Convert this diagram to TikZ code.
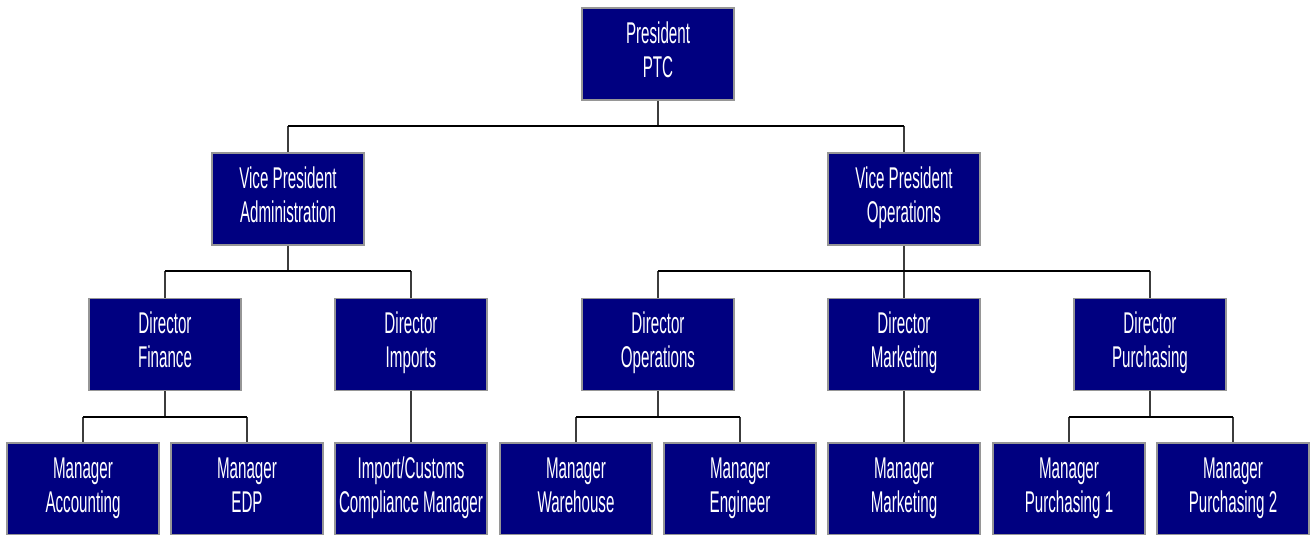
\documentclass[tikz,border=0pt]{standalone}
\usepackage{fontspec}
\setmainfont[FakeStretch=0.505]{Liberation Sans}
\definecolor{navy}{RGB}{0,0,128}
\definecolor{bord}{RGB}{150,150,150}
\definecolor{vl}{RGB}{60,60,60}
\newcommand\st{\rule[-10.5pt]{0pt}{33.9pt}}
\begin{document}
\begin{tikzpicture}[x=1pt,y=-1pt,
  box/.style={draw=bord,line width=1.8pt,fill=navy,text=white,minimum width=152pt,minimum height=92pt,inner sep=0pt,align=center,font=\fontsize{30}{34}\selectfont},
  vline/.style={draw=vl,line width=1.3pt},
  hbar/.style={draw=black,line width=2.2pt}]
\useasboundingbox (0,0) rectangle (1312,535);
% level 0
\node[box] (pres) at (658,54) {\st President\\\st PTC};
% level 1
\node[box] (vpa) at (288,199) {\st Vice President\\\st Administration};
\node[box] (vpo) at (904,199) {\st Vice President\\\st Operations};
% level 2
\node[box] (dfin) at (165,344.5) {\st Director\\\st Finance};
\node[box] (dimp) at (411,344.5) {\st Director\\\st Imports};
\node[box] (dops) at (658,344.5) {\st Director\\\st Operations};
\node[box] (dmkt) at (904,344.5) {\st Director\\\st Marketing};
\node[box] (dpur) at (1150,344.5) {\st Director\\\st Purchasing};
% level 3
\node[box] (macc) at (83,489) {\st Manager\\\st Accounting};
\node[box] (medp) at (247,489) {\st Manager\\\st EDP};
\node[box] (mimp) at (411,489) {\st Import/Customs\\\st Compliance Manager};
\node[box] (mwar) at (576,489) {\st Manager\\\st Warehouse};
\node[box] (meng) at (740,489) {\st Manager\\\st Engineer};
\node[box] (mmkt) at (904,489) {\st Manager\\\st Marketing};
\node[box] (mp1) at (1069,489) {\st Manager\\\st Purchasing 1};
\node[box] (mp2) at (1233,489) {\st Manager\\\st Purchasing 2};
% bar levels
\coordinate (b0) at (0,126);
\coordinate (b1) at (0,271);
\coordinate (b2) at (0,417);
% president -> VPs
\draw[vline] (pres.south) -- (pres.south |- b0);
\draw[vline] (vpa.north |- b0) -- (vpa.north);
\draw[vline] (vpo.north |- b0) -- (vpo.north);
\draw[hbar] (vpa.north |- b0) -- (vpo.north |- b0);
% VP admin -> directors
\draw[vline] (vpa.south) -- (vpa.south |- b1);
\draw[vline] (dfin.north |- b1) -- (dfin.north);
\draw[vline] (dimp.north |- b1) -- (dimp.north);
\draw[hbar] (dfin.north |- b1) -- (dimp.north |- b1);
% VP ops -> directors
\draw[vline] (vpo.south) -- (vpo.south |- b1);
\draw[vline] (dops.north |- b1) -- (dops.north);
\draw[vline] (dmkt.north |- b1) -- (dmkt.north);
\draw[vline] (dpur.north |- b1) -- (dpur.north);
\draw[hbar] (dops.north |- b1) -- (dpur.north |- b1);
% director finance -> managers
\draw[vline] (dfin.south) -- (dfin.south |- b2);
\draw[vline] (macc.north |- b2) -- (macc.north);
\draw[vline] (medp.north |- b2) -- (medp.north);
\draw[hbar] (macc.north |- b2) -- (medp.north |- b2);
% director imports -> manager
\draw[vline] (dimp.south) -- (mimp.north);
% director operations -> managers
\draw[vline] (dops.south) -- (dops.south |- b2);
\draw[vline] (mwar.north |- b2) -- (mwar.north);
\draw[vline] (meng.north |- b2) -- (meng.north);
\draw[hbar] (mwar.north |- b2) -- (meng.north |- b2);
% director marketing -> manager
\draw[vline] (dmkt.south) -- (mmkt.north);
% director purchasing -> managers
\draw[vline] (dpur.south) -- (dpur.south |- b2);
\draw[vline] (mp1.north |- b2) -- (mp1.north);
\draw[vline] (mp2.north |- b2) -- (mp2.north);
\draw[hbar] (mp1.north |- b2) -- (mp2.north |- b2);
\end{tikzpicture}
\end{document}
